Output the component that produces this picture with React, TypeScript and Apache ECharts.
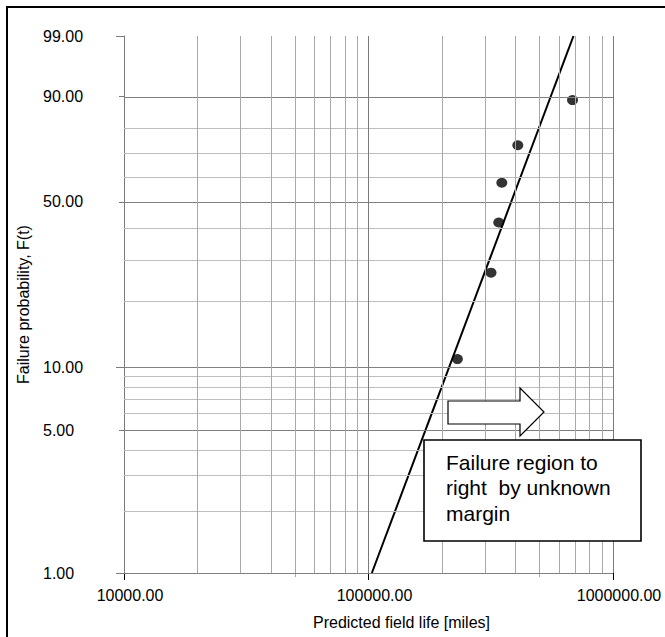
import React, { useEffect, useRef } from "react";
import * as echarts from "echarts";

// Observed failures: predicted field life (miles) and median-rank failure probability (%)
const failureLife = [231000, 317000, 341000, 351000, 408000, 683000];
const failureProb = [10.9, 26.6, 42.2, 57.8, 73.4, 89.1];

// Fitted Weibull line, given by its two end points (life, probability %)
const fitLife = [103200, 689000];
const fitProb = [1, 99];

// Probability axis: labelled values, long/short tick marks and grid lines
const probLabels = [1, 5, 10, 50, 90, 99];
const probLongTicks = [1, 10, 99];
const probShortTicks = [5, 50, 90];
const probGrid = [1, 2, 3, 4, 5, 6, 7, 8, 9, 10, 20, 30, 40, 50, 60, 70, 80, 90, 99];

// Life axis grid lines and the small intermediate ticks
const lifeGrid = [
  20000, 30000, 40000, 50000, 60000, 70000, 80000, 90000, 100000,
  200000, 300000, 400000, 500000, 600000, 700000, 800000, 900000, 1000000,
];
const lifeDarkGrid = [100000, 1000000];
const lifeSmallTicks = [50000, 500000];

const calloutLines = ["Failure region to", "right  by unknown", "margin"];

const FONT = "'Liberation Sans', Arial, Helvetica, sans-serif";

// Weibull probability scale: ln(-ln(1 - F))
const weibull = (pct: number) => Math.log(-Math.log(1 - pct / 100));

export default function App() {
  const ref = useRef<HTMLDivElement>(null);

  useEffect(() => {
    if (!ref.current) return;
    const chart = echarts.init(ref.current, null, { renderer: "svg" });

    const yMin = weibull(probGrid[0]);
    const yMax = weibull(probGrid[probGrid.length - 1]);

    const probLabel = (v: number) => {
      let best = probLabels[0];
      let d = Infinity;
      for (const p of probLabels) {
        const dd = Math.abs(weibull(p) - v);
        if (dd < d) {
          d = dd;
          best = p;
        }
      }
      return best.toFixed(2);
    };

    const hGrid = probGrid.map((p) => ({
      yAxis: weibull(p),
      lineStyle: {
        color: probLabels.includes(p) ? "#808080" : "#bdbdbd",
        width: 1,
        type: "solid",
      },
    }));
    const vGrid = lifeGrid.map((x) => ({
      xAxis: x,
      lineStyle: {
        color: lifeDarkGrid.includes(x) ? "#7a7a7a" : "#a8a8a8",
        width: 1,
        type: "solid",
      },
    }));

    const scatterData = failureLife.map((x, i) => [x, weibull(failureProb[i])]);
    const fitData = fitLife.map((x, i) => [x, weibull(fitProb[i])]);

    // Block arrow pointing right, above the callout box
    const arrowPoints = [
      [448, 401],
      [520, 401],
      [520, 388],
      [544, 412],
      [520, 436],
      [520, 424],
      [448, 424],
    ];

    chart.setOption({
      animation: false,
      backgroundColor: "#ffffff",
      textStyle: { fontFamily: FONT },
      grid: { left: 124, top: 36, width: 489, height: 537, containLabel: false },
      xAxis: [
        {
          type: "log",
          logBase: 10,
          min: 10000,
          max: 1000000,
          position: "bottom",
          name: "Predicted field life [miles]",
          nameLocation: "middle",
          nameGap: 41,
          nameTextStyle: {
            fontFamily: FONT,
            fontSize: 16,
            color: "#000",
            padding: [0, 0, 0, 66],
          },
          axisLine: { onZero: false, lineStyle: { color: "#000", width: 1 } },
          axisTick: { show: true, length: 7, lineStyle: { color: "#000" } },
          axisLabel: {
            fontFamily: FONT,
            fontSize: 16,
            color: "#000",
            margin: 14,
            padding: [0, 0, 0, 12],
            formatter: (v: number) => Number(v).toFixed(2),
          },
          splitLine: { show: false },
          minorTick: { show: false },
        },
        {
          type: "value",
          min: Math.log10(10000),
          max: Math.log10(1000000),
          position: "bottom",
          offset: 0,
          axisLine: { show: false, onZero: false },
          axisTick: {
            show: true,
            length: 4,
            customValues: lifeSmallTicks.map((v) => Math.log10(v)),
            lineStyle: { color: "#a8a8a8" },
          },
          axisLabel: { show: false },
          splitLine: { show: false },
        },
      ],
      yAxis: [
        {
          type: "value",
          min: yMin,
          max: yMax,
          position: "left",
          name: "Failure probability, F(t)",
          nameLocation: "middle",
          nameGap: 93,
          nameTextStyle: { fontFamily: FONT, fontSize: 16, color: "#000" },
          axisLine: { show: true, onZero: false, lineStyle: { color: "#7a7a7a", width: 1 } },
          axisTick: {
            show: true,
            length: 8,
            customValues: probLongTicks.map(weibull),
            lineStyle: { color: "#7a7a7a" },
          },
          axisLabel: {
            customValues: probLabels.map(weibull),
            fontFamily: FONT,
            fontSize: 16,
            color: "#000",
            align: "left",
            margin: 81,
            formatter: (v: number) => probLabel(v),
          },
          splitLine: { show: false },
        },
        {
          type: "value",
          min: yMin,
          max: yMax,
          position: "left",
          offset: 0,
          axisLine: { show: false, onZero: false },
          axisTick: {
            show: true,
            length: 5,
            customValues: probShortTicks.map(weibull),
            lineStyle: { color: "#7a7a7a" },
          },
          axisLabel: { show: false },
          splitLine: { show: false },
        },
      ],
      series: [
        {
          type: "line",
          name: "grid",
          data: [],
          z: 1,
          silent: true,
          markLine: {
            silent: true,
            symbol: ["none", "none"],
            label: { show: false },
            animation: false,
            data: [...hGrid, ...vGrid],
          },
        },
        {
          type: "line",
          name: "Weibull fit",
          data: fitData,
          z: 3,
          showSymbol: false,
          symbol: "none",
          lineStyle: { color: "#000", width: 2 },
          silent: true,
        },
        {
          type: "scatter",
          name: "Failures",
          data: scatterData,
          z: 4,
          symbol: "circle",
          symbolSize: [11, 10],
          itemStyle: { color: "#000" },
          silent: true,
        },
      ],
      graphic: [
        {
          type: "rect",
          shape: { x: 7, y: 7, width: 700, height: 700 },
          style: { fill: "none", stroke: "#000", lineWidth: 2 },
          silent: true,
          z: 10,
        },
        {
          type: "polygon",
          shape: { points: arrowPoints },
          style: { fill: "#fff", stroke: "#000", lineWidth: 1.2 },
          z: 10,
        },
        {
          type: "rect",
          shape: { x: 424, y: 440, width: 217, height: 101 },
          style: { fill: "#fff", stroke: "#000", lineWidth: 1.6 },
          z: 10,
        },
        ...calloutLines.map((t, i) => ({
          type: "text",
          x: 446,
          y: 462 + i * 25.5,
          z: 11,
          style: {
            text: t,
            font: `21px ${FONT}`,
            fill: "#000",
            textAlign: "left",
            textVerticalAlign: "middle",
          },
        })),
      ],
    });

    return () => chart.dispose();
  }, []);

  return (
    <div
      ref={ref}
      style={{
        position: "fixed",
        left: 0,
        top: 0,
        width: 665,
        height: 637,
        background: "#fff",
      }}
    />
  );
}
